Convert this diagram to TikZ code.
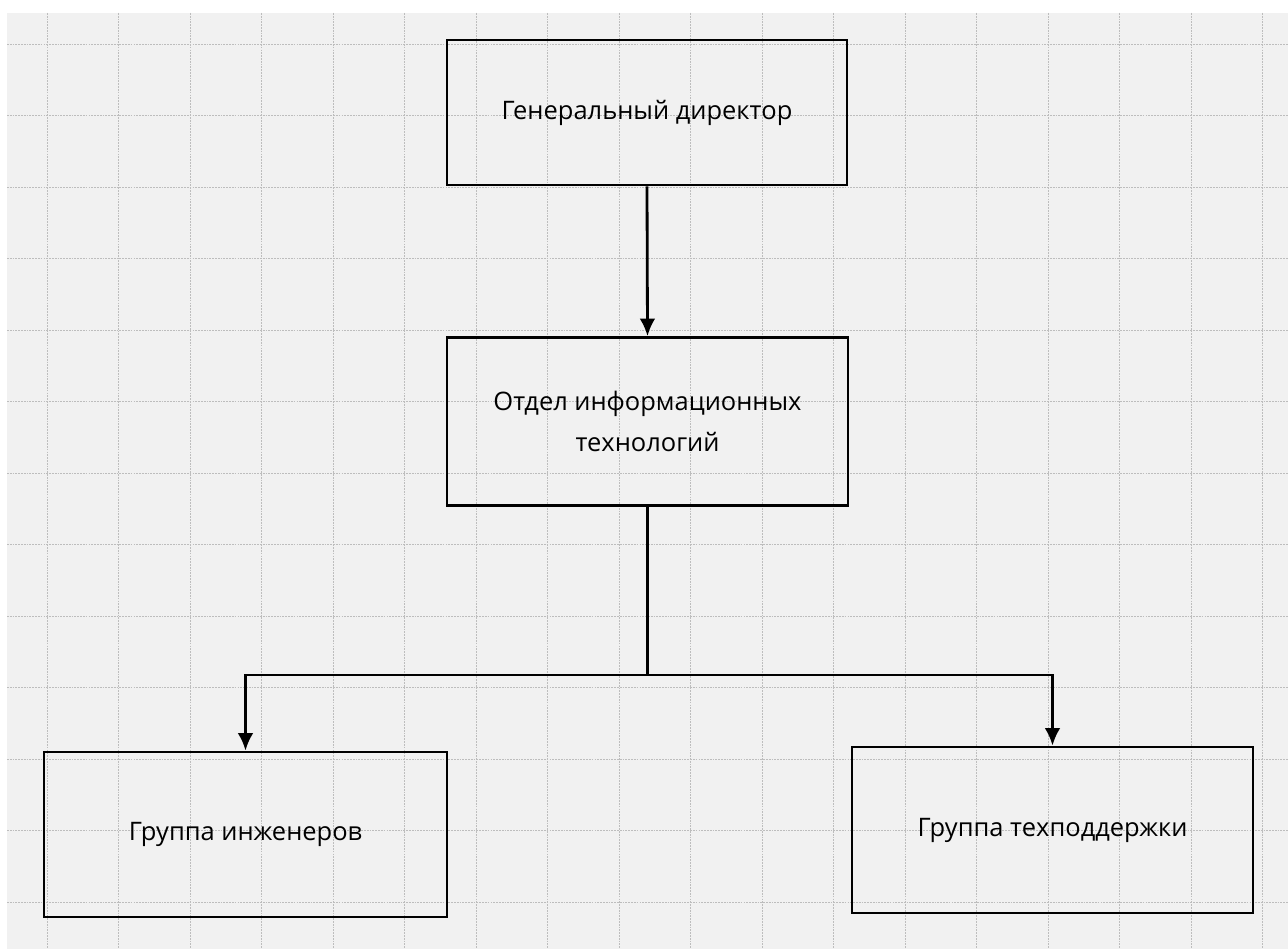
\documentclass[tikz,border=0pt]{standalone}
\usepackage{fontspec}
\setmainfont{Open Sans}
\usepackage{xcolor}
\usetikzlibrary{arrows.meta}
\definecolor{paper}{HTML}{F1F1F1}
\definecolor{gridgray}{HTML}{BDBDBD}

\tikzset{
  unitbox/.style={draw, line width=1.6pt, fill=none, align=center,
    font=\fontsize{14.5}{23}\selectfont},
  link/.style={line width=1.6pt},
  linkarrow/.style={line width=1.6pt, -{Latex[length=10pt,width=9pt]}},
  gridline/.style={gridgray, line width=0.5pt, dash pattern=on 1pt off 0.6pt}
}

\begin{document}
\begin{tikzpicture}[x=0.02cm, y=-0.02cm]
                \useasboundingbox (0,0) rectangle (1288,949);
                % Фон: лист в клетку
                \fill[white] (0,0) rectangle (1288,949);
                \fill[paper] (7,13) rectangle (1288,949);
                \foreach \gx in {47,118.5,...,1288}
                    \draw[gridline] (\gx,13) -- (\gx,949);
                \foreach \gy in {44,115.5,...,949}
                    \draw[gridline] (7,\gy) -- (1288,\gy);

                % Блоки структуры
                \node[unitbox, minimum width=8cm, minimum height=2.9cm] (gendir) at (647,112.5) {Генеральный директор};
                \node[unitbox, minimum width=8.02cm, minimum height=3.36cm] (itdept) at (647.5,421.5) {Отдел информационных\\технологий};
                \node[unitbox, minimum width=8.06cm, minimum height=3.3cm] (engineers) at (245.5,834.5) {Группа инженеров};
                \node[unitbox, minimum width=8.02cm, minimum height=3.32cm] (support) at (1052.5,830) {Группа техподдержки};

                % Связи
                \coordinate (split) at (647.5,675);
                \draw[linkarrow] (gendir.south) -- (itdept.north);
                \draw[link] (itdept.south) -- (split);
                \draw[linkarrow] (split) -| (engineers.north);
                \draw[linkarrow] (split) -| (support.north);
            \end{tikzpicture}
\end{document}
